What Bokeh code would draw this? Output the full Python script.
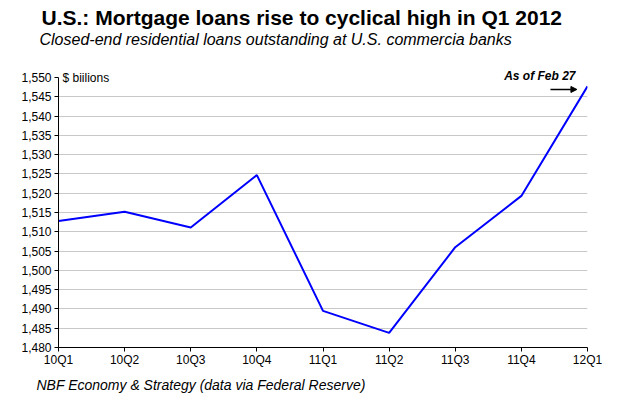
from bokeh.plotting import figure
from bokeh.models import Arrow, NormalHead, FixedTicker, NumeralTickFormatter, Range1d, Title
from bokeh.embed import file_html
from bokeh.resources import INLINE

quarters = ["10Q1", "10Q2", "10Q3", "10Q4", "11Q1", "11Q2", "11Q3", "11Q4", "12Q1"]
loans = [1512.8, 1515.2, 1511.1, 1524.7, 1489.5, 1483.8, 1506.0, 1519.3, 1547.7]
y_ticks = list(range(1480, 1551, 5))

FONT = "Liberation Sans"
W, H = 622, 397
p = figure(width=W, height=H, output_backend="svg", toolbar_location=None,
           x_range=Range1d(0, len(quarters) - 1), y_range=Range1d(1480, 1550),
           min_border_left=58, min_border_right=W - 587, min_border_top=77,
           min_border_bottom=H - 349)
p.outline_line_color = None
p.background_fill_color = "white"
p.border_fill_color = "white"

xs = list(range(len(quarters)))
p.line(xs, loans, line_color="#0000ff", line_width=2)

# axes
p.xaxis.ticker = FixedTicker(ticks=xs)
p.xaxis.major_label_overrides = {i: q for i, q in enumerate(quarters)}
p.yaxis.ticker = FixedTicker(ticks=y_ticks)
p.yaxis.formatter = NumeralTickFormatter(format="0,0")
for ax in (p.xaxis[0], p.yaxis[0]):
    ax.axis_line_color = "black"
    ax.axis_line_width = 1
    ax.major_tick_line_color = "black"
    ax.major_tick_in = 0
    ax.major_tick_out = 4
    ax.minor_tick_line_color = None
    ax.major_label_text_font = FONT
    ax.major_label_text_font_size = "12px"
    ax.major_label_text_color = "black"
    ax.major_label_standoff = 3
p.xaxis.major_label_standoff = 1
p.xgrid.grid_line_color = None
p.ygrid.grid_line_color = "#c8c8c8"
p.ygrid.grid_line_width = 1


def title(text, size, style="normal", align="left", offset=0, standoff=0, valign="middle"):
    return Title(text=text, align=align, offset=offset, standoff=standoff,
                 vertical_align=valign, text_font=FONT, text_font_size=size,
                 text_font_style=style, text_color="black")

# stacked from the frame outward
p.add_layout(title("$ biilions", "12px", offset=4, standoff=-16), "above")
p.add_layout(title("As of Feb 27", "12px", "bold italic", align="right",
                   offset=12, standoff=-12), "above")
p.add_layout(title(" ", "12px", standoff=9), "above")
p.add_layout(title("Closed-end residential loans outstanding at U.S. commercia banks",
                   "16px", "italic", offset=-19), "above")
p.add_layout(title("U.S.: Mortgage loans rise to cyclical high in Q1 2012",
                   "21px", "bold", offset=-17), "above")
p.add_layout(title("NBF Economy & Strategy (data via Federal Reserve)",
                   "14px", "italic", offset=-22, standoff=10, valign="bottom"), "below")

p.add_layout(Arrow(x_start=7.44, y_start=1546.9, x_end=7.84, y_end=1546.9,
                   line_color="black", line_width=1.5,
                   end=NormalHead(size=6, fill_color="black", line_color="black")))

open("out.html", "w").write(file_html(p, INLINE))
